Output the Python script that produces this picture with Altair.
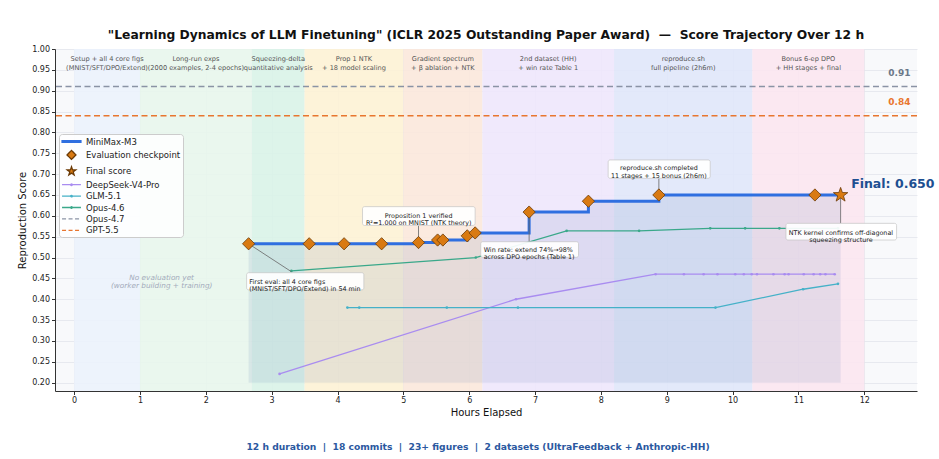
import altair as alt
import pandas as pd

FONT = "DejaVu Sans"
NB = "\u00a0"

# ---------------- data ----------------
BAND_START = [0.0, 1.0, 2.7, 3.5, 5.0, 6.2, 8.2, 10.3]
BAND_END = [1.0, 2.7, 3.5, 5.0, 6.2, 8.2, 10.3, 12.0]
BAND_LABELS = [
    "Setup + all 4 core figs\n(MNIST/SFT/DPO/Extend)",
    "Long-run exps\n(2000 examples, 2-4 epochs)",
    "Squeezing-delta\nquantitative analysis",
    "Prop 1 NTK\n+ 18 model scaling",
    "Gradient spectrum\n+ β ablation + NTK",
    "2nd dataset (HH)\n+ win rate Table 1",
    "reproduce.sh\nfull pipeline (2h6m)",
    "Bonus 6-ep DPO\n+ HH stages + final",
]

MM_HOURS = [2.65, 3.57, 4.1, 4.67, 5.23, 5.52, 5.6, 5.97, 6.09, 6.91, 7.81, 8.88, 11.25, 11.64]
MM_SCORE = [0.533, 0.533, 0.533, 0.533, 0.536, 0.542, 0.542, 0.552, 0.559, 0.609, 0.635, 0.650, 0.650, 0.650]

DS_HOURS = [3.12, 6.71, 8.83, 9.26, 9.56, 9.77, 10.04, 10.17, 10.29, 10.37, 10.62, 10.79, 10.85, 11.08, 11.23, 11.33, 11.41, 11.55]
DS_SCORE = [0.221, 0.400, 0.460, 0.460, 0.460, 0.460, 0.460, 0.460, 0.460, 0.460, 0.460, 0.460, 0.460, 0.460, 0.460, 0.460, 0.460, 0.460]

GLM_HOURS = [4.15, 4.33, 5.66, 6.74, 9.74, 11.07, 11.60]
GLM_SCORE = [0.380, 0.380, 0.380, 0.380, 0.380, 0.424, 0.437]

OP46_HOURS = [3.30, 6.10, 7.48, 8.58, 9.66, 10.19, 10.71, 11.60]
OP46_SCORE = [0.468, 0.500, 0.564, 0.564, 0.570, 0.570, 0.570, 0.570]

REF_NAMES = ["Opus-4.7", "GPT-5.5"]
REF_SCORE = [0.91, 0.84]

FINAL_SCORE = 0.650

ANN_TEXT = [
    "First eval: all 4 core figs\n(MNIST/SFT/DPO/Extend) in 54 min",
    "Proposition 1 verified\nR²=1.000 on MNIST (NTK theory)",
    "Win rate: extend 74%→98%\nacross DPO epochs (Table 1)",
    "reproduce.sh completed\n11 stages + 15 bonus (2h6m)",
    "NTK kernel confirms off-diagonal\nsqueezing structure",
]
ANN_POINT_X = [2.65, 5.23, 6.91, 8.88, 11.64]
ANN_POINT_Y = [0.533, 0.536, 0.609, 0.650, 0.650]
ANN_END_X = [3.30, 5.23, 6.91, 8.88, 11.64]
ANN_END_Y = [0.466, 0.577, 0.538, 0.690, 0.582]
ANN_BOX_X0 = [2.62, 4.38, 6.175, 8.11, 10.81]
ANN_BOX_X1 = [4.40, 6.09, 7.66, 9.66, 12.49]
ANN_BOX_Y0 = [0.4225, 0.577, 0.5005, 0.690, 0.542]
ANN_BOX_Y1 = [0.4636, 0.622, 0.538, 0.734, 0.582]
ANN_TEXT_X = [2.66, 5.233, 6.22, 8.88, 11.645]
ANN_TEXT_Y = [0.442, 0.600, 0.519, 0.714, 0.560]
ANN_LEFT = [True, False, True, False, False]

LEGEND_NAMES = ["MiniMax-M3", "Evaluation checkpoint", "Final score", "DeepSeek-V4-Pro",
                "GLM-5.1", "Opus-4.6", "Opus-4.7", "GPT-5.5"]

TITLE = ("\"Learning Dynamics of LLM Finetuning\" (ICLR 2025 Outstanding Paper Award)"
         + NB * 2 + "\u2014" + NB * 2 + "Score Trajectory Over 12 h")
FOOTER_PARTS = ["12 h duration", "18 commits", "23+ figures", "2 datasets (UltraFeedback + Anthropic-HH)"]
FOOTER = (NB * 2 + "|" + NB * 2).join(FOOTER_PARTS)

# ---------------- styles ----------------
BAND_COLORS = ["#ebf2fc", "#e8f6ec", "#d9f3e8", "#fdf2d5", "#fbe8dc", "#eee7fc", "#e0e7f9", "#fbe6f0"]
C_MM = "#2f6fe0"
C_DIAMOND = "#d97a12"
C_EDGE = "#6b3a06"
C_DS = "#a98cf0"
C_GLM = "#45b1c8"
C_OP46 = "#3aa88a"
C_OP47 = "#8a93a5"
C_GPT = "#e8762f"
REF_COLORS = [C_OP47, C_GPT]
REF_LABEL_COLORS = ["#6b7889", C_GPT]

STAR_PATH = ("M0,-1L0.235,-0.324L0.951,-0.309L0.380,0.124L0.588,0.809L0,0.4"
             "L-0.588,0.809L-0.380,0.124L-0.951,-0.309L-0.235,-0.324Z")
LINE_PATH = "M-2.1,0H2.1"
THICK_PATH = "M-2.1,-0.17H2.1V0.17H-2.1Z"
DOT_PATH = "M-2.1,0H2.1M-0.18,0A0.18,0.18 0 1,0 0.18,0A0.18,0.18 0 1,0 -0.18,0"
LEG_SHAPES = [THICK_PATH, "diamond", STAR_PATH, DOT_PATH, DOT_PATH, DOT_PATH, LINE_PATH, LINE_PATH]
LEG_FILLS = [C_MM, C_DIAMOND, C_DIAMOND, C_DS, C_GLM, C_OP46, C_OP47, C_GPT]
LEG_STROKES = [C_MM, C_EDGE, C_EDGE, C_DS, C_GLM, C_OP46, C_OP47, C_GPT]
LEG_DASHES = [[1, 0], [1, 0], [1, 0], [1, 0], [1, 0], [1, 0], [4, 2.5], [4, 2.5]]

X_DOM = [-0.29, 12.8]
Y_DOM = [0.18, 1.0]

# ---------------- tables ----------------
bands = pd.DataFrame({"start": BAND_START, "end": BAND_END, "label": BAND_LABELS})
bands["mid"] = (bands["start"] + bands["end"]) / 2
bands["ly"] = 0.975
bands["y0"] = Y_DOM[0]
bands["y1"] = Y_DOM[1]
bands["name"] = [f"b{i}" for i in range(len(bands))]

mm = pd.DataFrame({"h": MM_HOURS, "s": MM_SCORE})
ds = pd.DataFrame({"h": DS_HOURS, "s": DS_SCORE})
glm = pd.DataFrame({"h": GLM_HOURS, "s": GLM_SCORE})
op46 = pd.DataFrame({"h": OP46_HOURS, "s": OP46_SCORE})
ann = pd.DataFrame({
    "text": ANN_TEXT, "px": ANN_POINT_X, "py": ANN_POINT_Y, "ex": ANN_END_X, "ey": ANN_END_Y,
    "bx0": ANN_BOX_X0, "bx1": ANN_BOX_X1, "by0": ANN_BOX_Y0, "by1": ANN_BOX_Y1,
    "tx": ANN_TEXT_X, "ty": ANN_TEXT_Y, "left": ANN_LEFT,
})
legend_df = pd.DataFrame({"series": LEGEND_NAMES, "h": [0.0] * 8, "s": [0.5] * 8})

xs = alt.Scale(domain=X_DOM, nice=False, zero=False)
ys = alt.Scale(domain=Y_DOM, nice=False, zero=False)


def X(f):
    return alt.X(f, type="quantitative", scale=xs, title="Hours Elapsed",
                 axis=alt.Axis(values=list(range(0, 13)), format="d", orient="bottom"))


def Y(f):
    return alt.Y(f, type="quantitative", scale=ys, title="Reproduction Score",
                 axis=alt.Axis(values=[round(0.2 + 0.05 * i, 2) for i in range(17)], format=".2f", orient="left"))


layers = []

# bands
layers.append(alt.Chart(bands).mark_rect(opacity=0.9).encode(
    x=X("start"), x2="end", y=Y("y0"), y2="y1",
    color=alt.Color("name:N", scale=alt.Scale(domain=list(bands["name"]), range=BAND_COLORS), legend=None),
))
layers.append(alt.Chart(bands).mark_text(
    font=FONT, fontSize=6.6, color="#555555", lineBreak="\n", lineHeight=9, baseline="middle"
).encode(x=X("mid"), y=Y("ly"), text="label:N"))

# reference lines + labels
for name, val, col, lcol in zip(REF_NAMES, REF_SCORE, REF_COLORS, REF_LABEL_COLORS):
    rdf = pd.DataFrame({"s": [val], "lx": [12.70], "ly": [val + 0.032], "lab": [f"{val:.2f}"]})
    layers.append(alt.Chart(rdf).mark_rule(strokeDash=[6, 3.5], strokeWidth=1.4, color=col).encode(y=Y("s")))
    layers.append(alt.Chart(rdf).mark_text(font=FONT, fontSize=9, fontWeight="bold", align="right",
                                           baseline="middle", color=lcol).encode(x=X("lx"), y=Y("ly"), text="lab:N"))

layers.append(alt.Chart(pd.DataFrame({"h": [1.33], "s": [0.451],
                                      "t": ["No evaluation yet\n(worker building + training)"]})).mark_text(
    font=FONT, fontSize=7.3, fontStyle="italic", color="#a3abbb", lineBreak="\n", lineHeight=8.5
).encode(x=X("h"), y=Y("s"), text="t:N"))

# MiniMax fill
layers.append(alt.Chart(mm).mark_area(interpolate="step-after", color="#5a7db3", opacity=0.13).encode(
    x=X("h"), y=Y("s"), y2=alt.datum(0.2)))


def series(df, color):
    return alt.Chart(df).mark_line(color=color, strokeWidth=1.3,
                                   point=alt.OverlayMarkDef(color=color, size=7, filled=True, opacity=1)).encode(
        x=X("h"), y=Y("s"))


layers += [series(ds, C_DS), series(glm, C_GLM), series(op46, C_OP46)]

layers.append(alt.Chart(mm).mark_line(interpolate="step-after", color=C_MM, strokeWidth=3).encode(
    x=X("h"), y=Y("s")))

# annotations
layers.append(alt.Chart(ann).mark_rule(color="#666666", strokeWidth=0.8).encode(
    x=X("px"), y=Y("py"), x2="ex", y2="ey"))
layers.append(alt.Chart(ann).mark_rect(fill="white", fillOpacity=0.92, stroke="#c4c4c4", strokeWidth=0.7,
                                       cornerRadius=2).encode(x=X("bx0"), x2="bx1", y=Y("by0"), y2="by1"))
layers.append(alt.Chart(ann).transform_filter("datum.left").mark_text(
    font=FONT, fontSize=6.4, color="#222222", lineBreak="\n", lineHeight=7.6, align="left", baseline="middle"
).encode(x=X("tx"), y=Y("ty"), text="text:N"))
layers.append(alt.Chart(ann).transform_filter("!datum.left").mark_text(
    font=FONT, fontSize=6.4, color="#222222", lineBreak="\n", lineHeight=7.6, align="center", baseline="middle"
).encode(x=X("tx"), y=Y("ty"), text="text:N"))

# checkpoints + final
layers.append(alt.Chart(mm.iloc[:-1]).mark_point(shape="diamond", filled=True, size=150, fill=C_DIAMOND,
                                                 stroke=C_EDGE, strokeWidth=0.8, opacity=1).encode(
    x=X("h"), y=Y("s")))
layers.append(alt.Chart(mm.iloc[-1:]).mark_point(shape=STAR_PATH, filled=True, size=230, fill=C_DIAMOND,
                                                 stroke=C_EDGE, strokeWidth=0.8, opacity=1).encode(
    x=X("h"), y=Y("s")))
layers.append(alt.Chart(pd.DataFrame({"h": [11.80], "s": [0.676], "t": [f"Final: {FINAL_SCORE:.3f}"]})).mark_text(
    font=FONT, fontSize=12.5, fontWeight="bold", color="#1d4f91", align="left", baseline="middle"
).encode(x=X("h"), y=Y("s"), text="t:N"))

layers.append(alt.Chart(pd.DataFrame({"t": [FOOTER]})).mark_text(
    font=FONT, fontSize=9.2, fontWeight="bold", color="#2b58a0", align="center", baseline="middle"
).encode(x=alt.value(423), y=alt.value(398), text="t:N"))

# legend (merged fill / stroke / shape / strokeDash legend on one field)
leg = alt.Legend(
    title=None, orient="none", legendX=4, legendY=85,
    symbolSize=81, symbolStrokeWidth=1.3, symbolOpacity=1, symbolOffset=5,
    labelFont=FONT, labelFontSize=8.5, labelColor="#222222", labelOffset=9,
    padding=2, rowPadding=1.4,
    fillColor="rgba(255,255,255,0.85)", strokeColor="#cccccc", cornerRadius=3,
)
layers.append(alt.Chart(legend_df).transform_filter("false").mark_point(filled=True, opacity=1).encode(
    x=X("h"), y=Y("s"),
    fill=alt.Fill("series:N", scale=alt.Scale(domain=LEGEND_NAMES, range=LEG_FILLS), legend=leg),
    stroke=alt.Stroke("series:N", scale=alt.Scale(domain=LEGEND_NAMES, range=LEG_STROKES), legend=leg),
    shape=alt.Shape("series:N", scale=alt.Scale(domain=LEGEND_NAMES, range=LEG_SHAPES), legend=leg),
    strokeDash=alt.StrokeDash("series:N", scale=alt.Scale(domain=LEGEND_NAMES, range=LEG_DASHES), legend=leg),
))

chart = alt.layer(*layers).properties(
    width=862, height=342,
    title=alt.TitleParams(TITLE, font=FONT, fontSize=12.3, fontWeight="bold", color="#111111",
                          anchor="middle", offset=4),
    padding={"left": 55, "top": 49, "right": 22, "bottom": 68},
    autosize=alt.AutoSizeParams(type="none"),
).configure_view(
    fill="#f8f9fb", stroke=None,
).configure_axis(
    labelFont=FONT, titleFont=FONT, labelFontSize=8, titleFontSize=10, titleFontWeight="normal",
    labelColor="#222222", titleColor="#111111", domainColor="#333333", tickColor="#333333",
    tickSize=3.5, gridColor="#dfe3ea", gridWidth=0.7, domainWidth=1,
).configure_axisY(titlePadding=4).configure_axisX(titlePadding=3)

chart.save("out.html", embed_options={"renderer": "svg", "actions": False})
